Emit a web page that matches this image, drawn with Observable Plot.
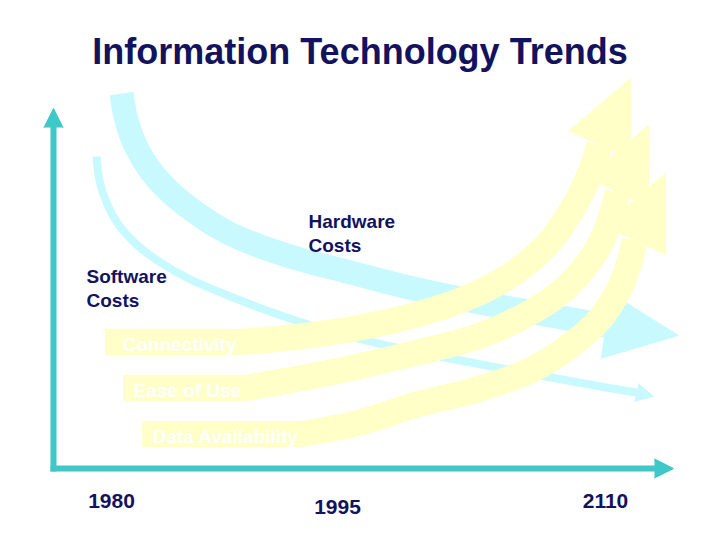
<!DOCTYPE html>
<html>
<head>
<meta charset="utf-8">
<script src="https://cdn.jsdelivr.net/npm/d3@7"></script>
<script src="https://cdn.jsdelivr.net/npm/@observablehq/plot@0.6"></script>
<style>
  body { margin: 0; background: #ffffff; }
  #wrap { width: 720px; height: 540px; position: relative; overflow: hidden; background: #fff; }
  h1 { margin: 0; height: 100px; box-sizing: border-box; padding-top: 34px;
       font: bold 36px "Liberation Sans", Arial, sans-serif; line-height: 36px;
       color: #12125f; text-align: center; }
  #chart svg { display: block; }
</style>
</head>
<body>
<div id="wrap">
  <h1>Information Technology Trends</h1>
  <div id="chart"></div>
</div>
<script>
// ---- Data (conceptual trend paths, in diagram units) ----
// Falling cost trends (time, level) – level grows downward
const hardwareX = [121, 126, 135, 150, 170, 195, 225, 260, 300, 350, 400, 450, 500, 550, 605];
const hardwareY = [93, 120, 145, 170, 192, 212, 231, 246, 259, 272, 285, 296, 306, 315, 325];
const hardwareTip = [678, 335];

const softwareX = [96, 99, 106, 118, 136, 160, 190, 230, 275, 330, 400, 470, 540, 600, 636];
const softwareY = [156, 180, 202, 224, 244, 262, 279, 296, 313, 331, 348, 362, 375, 386, 392];
const softwareTip = [653, 396];

// Rising trends
const trendNames = ["Connectivity", "Ease of Use", "Data Availability"];
const trendStartX = [105, 123, 142];
const trendX = [
  [235, 300, 360, 413, 460, 500, 530, 552, 568, 581, 591, 599],
  [242, 330, 413, 480, 530, 560, 580, 595, 605, 612, 617],
  [298, 360, 413, 480, 530, 570, 600, 618, 628, 634]
];
const trendY = [
  [342, 336, 327, 315, 300, 281, 260, 238, 215, 192, 169, 145],
  [388, 372, 353, 335, 312, 292, 272, 252, 232, 212, 192],
  [434, 422, 405, 388, 370, 345, 318, 290, 265, 240]
];
const trendTips = [[630, 78], [648, 125], [665, 173]];

// Labels
const costLabels = ["Hardware\nCosts", "Software\nCosts"];
const costLabelX = [308, 86];
const costLabelY = [251, 306];

const yearLabels = ["1980", "1995", "2110"];
const yearX = [111, 337, 605];
const yearY = [507, 513, 507];

// Axes (origin and arrow tips)
const axisOrigin = [53, 468];
const axisTips = [[53, 108], [673, 468]];

// ---- Styles ----
const CYAN = "#c8f9ff";
const YELLOW = "#ffffc8";
const TEAL = "#3ec8c8";
const NAVY = "#12125f";
const FONT = "Liberation Sans, Arial, sans-serif";

// ---- Helpers ----
const toPts = (xs, ys, id) => xs.map((x, i) => ({x, y: ys[i], id}));
function head(last, tip, hw, len, id) {
  const dx = tip[0] - last[0], dy = tip[1] - last[1];
  const L = Math.hypot(dx, dy);
  const ux = dx / L, uy = dy / L;
  const bx = len == null ? last[0] : tip[0] - ux * len;
  const by = len == null ? last[1] : tip[1] - uy * len;
  const px = -uy, py = ux;
  return [
    {x: bx + px * hw, y: by + py * hw, id},
    {x: tip[0], y: tip[1], id},
    {x: bx - px * hw, y: by - py * hw, id}
  ];
}

const hwPts = toPts(hardwareX, hardwareY, "hw");
const swPts = toPts(softwareX, softwareY, "sw");
const hwHead = head([hardwareX.at(-1), hardwareY.at(-1)], hardwareTip, 33, null, "hw");
const swHead = head([softwareX.at(-1), softwareY.at(-1)], softwareTip, 9, null, "sw");

const trendPts = trendNames.flatMap((n, i) => toPts(trendX[i], trendY[i], n));
const trendHeads = trendNames.flatMap((n, i) =>
  head([trendX[i].at(-1), trendY[i].at(-1)], trendTips[i], 34, null, n));
const trendBoxes = trendNames.map((n, i) => ({
  name: n, x1: trendStartX[i], x2: trendX[i][0] + 2, y: trendY[i][0]
}));

const axisLines = axisTips.flatMap((t, i) => {
  const id = "a" + i;
  const dx = t[0] - axisOrigin[0], dy = t[1] - axisOrigin[1];
  const L = Math.hypot(dx, dy);
  return [
    {x: axisOrigin[0] - (dx / L) * 3, y: axisOrigin[1] - (dy / L) * 3, id},
    {x: t[0] - (dx / L) * 17, y: t[1] - (dy / L) * 17, id}
  ];
});
const axisHeads = axisTips.flatMap((t, i) => head(axisOrigin, t, 9.5, 19, "a" + i));

const costData = costLabels.map((t, i) => ({t, x: costLabelX[i], y: costLabelY[i]}));
const yearData = yearLabels.map((t, i) => ({t, x: yearX[i], y: yearY[i]}));

const chart = Plot.plot({
  width: 720,
  height: 440,
  margin: 0,
  x: {domain: [0, 720], range: [0, 720], axis: null},
  y: {domain: [100, 540], range: [0, 440], axis: null},
  style: {background: "transparent", overflow: "visible"},
  marks: [
    // falling cost bands
    Plot.line(hwPts, {x: "x", y: "y", z: "id", stroke: CYAN, strokeWidth: 24, curve: "catmull-rom", strokeLinecap: "butt", strokeLinejoin: "round"}),
    Plot.line(hwHead, {x: "x", y: "y", z: "id", fill: CYAN, stroke: CYAN, strokeWidth: 1, curve: "linear"}),
    Plot.line(swPts, {x: "x", y: "y", z: "id", stroke: CYAN, strokeWidth: 8, curve: "catmull-rom", strokeLinecap: "butt"}),
    Plot.line(swHead, {x: "x", y: "y", z: "id", fill: CYAN, stroke: CYAN, strokeWidth: 1, curve: "linear"}),
    // rising trend bands
    Plot.rect(trendBoxes, {x1: "x1", x2: "x2", y1: d => d.y - 13, y2: d => d.y + 13, fill: YELLOW}),
    Plot.line(trendPts, {x: "x", y: "y", z: "id", stroke: YELLOW, strokeWidth: 26, curve: "catmull-rom", strokeLinecap: "butt", strokeLinejoin: "round"}),
    Plot.line(trendHeads, {x: "x", y: "y", z: "id", fill: YELLOW, stroke: YELLOW, strokeWidth: 1, curve: "linear"}),
    Plot.text(trendBoxes, {x: d => d.x1 + (d.name === "Connectivity" ? 17 : 10), y: d => d.y + 8, text: "name",
      textAnchor: "start", lineAnchor: "bottom", fill: "#ffffff", fontSize: 19, fontWeight: "bold", fontFamily: FONT}),
    // axes
    Plot.line(axisLines, {x: "x", y: "y", z: "id", stroke: TEAL, strokeWidth: 6, strokeLinecap: "butt"}),
    Plot.line(axisHeads, {x: "x", y: "y", z: "id", fill: TEAL, stroke: TEAL, strokeWidth: 1, curve: "linear"}),
    // labels
    Plot.text(costData, {x: "x", y: "y", text: "t", textAnchor: "start", lineAnchor: "bottom", lineHeight: 24 / 19,
      fill: NAVY, fontSize: 19, fontWeight: "bold", fontFamily: FONT}),
    Plot.text(yearData, {x: "x", y: "y", text: "t", textAnchor: "middle", lineAnchor: "bottom",
      fill: NAVY, fontSize: 21, fontWeight: "bold", fontFamily: FONT})
  ]
});
document.getElementById("chart").appendChild(chart);
</script>
</body>
</html>
